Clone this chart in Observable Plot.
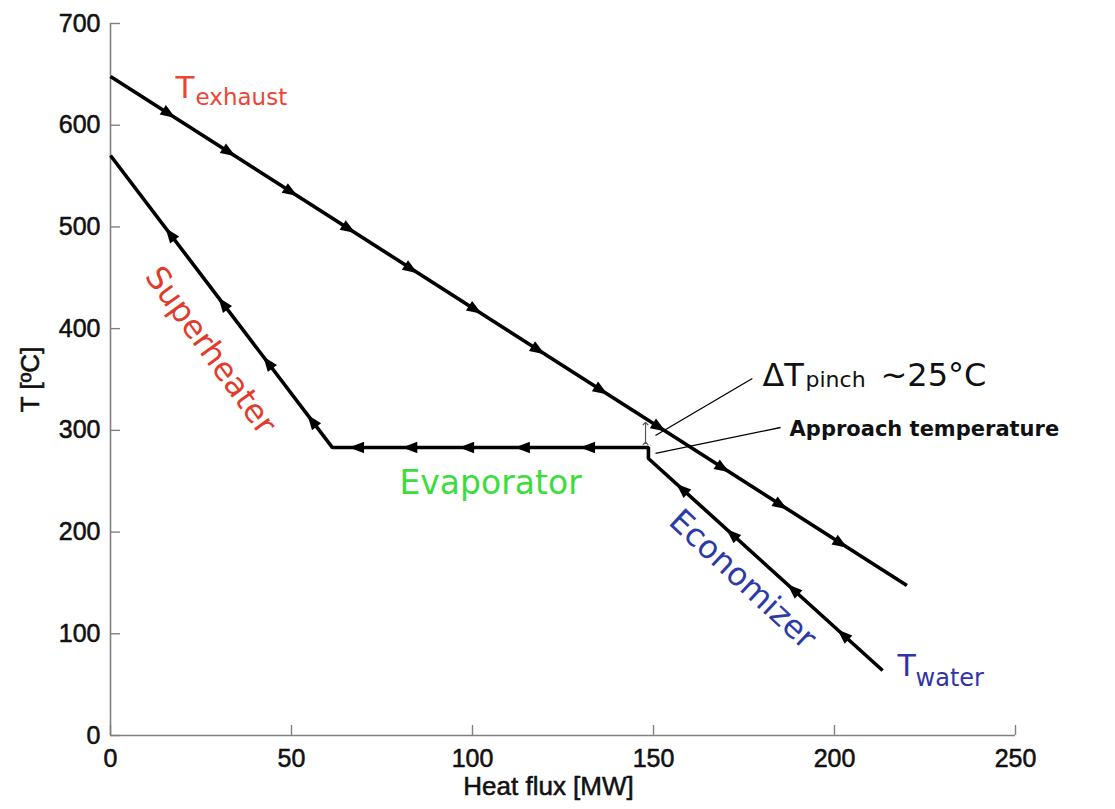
<!DOCTYPE html>
<html>
<head>
<meta charset="utf-8">
<script src="https://cdn.jsdelivr.net/npm/d3@7"></script>
<script src="https://cdn.jsdelivr.net/npm/@observablehq/plot@0.6"></script>
<style>
  html, body { margin: 0; padding: 0; background: #fff; }
</style>
</head>
<body>
<div id="chart"></div>
<script>
// ---- data ----
const xTicks = [0, 50, 100, 150, 200, 250];
const yTicks = [0, 100, 200, 300, 400, 500, 600, 700];

// exhaust gas line (heat flux MW, T °C)
const exhaustQ = [0, 220];
const exhaustT = [647.9, 147.5];

// water / steam line, in flow direction (economizer -> evaporator -> superheater)
const waterQ = [213.3, 148.6, 148.6, 61.3, 0];
const waterT = [63.9, 272.3, 283.1, 283.1, 570.2];

// arrowheads on lines
const exhaustArrowQ = [16, 32.6, 49.7, 65.7, 82.9, 100.6, 118, 135.4, 151.4, 169, 185, 201.6];
const exhaustArrowT = [611.6, 573.8, 534.8, 498.4, 459, 419, 379.3, 339.7, 303.3, 263.2, 226.8, 189];
const superArrowQ = [16.6, 31.2, 43.6, 55.8];
const superArrowT = [492.4, 424.1, 366, 308.8];
const evapArrowQ = [68.2, 82.9, 98.6, 114, 132];
const evapArrowT = [283.1, 283.1, 283.1, 283.1, 283.1];
const econArrowQ = [158, 171.8, 188.7, 202.5];
const econArrowT = [242, 197.5, 143.1, 98.7];

// pinch double arrow and leader lines
const pinchArrow = [{x1: 147.8, y1: 287.1, x2: 147.8, y2: 306.7}];
const leaders = [
  {x1: 150.55, y1: 294.9, x2: 177.3, y2: 351.0},
  {x1: 150.55, y1: 277.3, x2: 185.1, y2: 302.8}
];

// ---- layout ----
const W = 1115, H = 809;
const mL = 110, mR = 100, mT = 23, mB = 74;
const innerW = W - mL - mR, innerH = H - mT - mB;
const kx = innerW / 250, ky = innerH / 700;

function dirAngle(q0, t0, q1, t1) {
  const sx = (q1 - q0) * kx, sy = -(t1 - t0) * ky;
  return Math.atan2(sx, -sy) * 180 / Math.PI;
}
const zip = (qs, ts) => qs.map((q, i) => ({q, t: ts[i]}));

// slim filled triangle pointing up
const arrowHead = {
  draw(ctx, size) {
    const r = Math.sqrt(size / Math.PI);
    ctx.moveTo(0, -1.25 * r);
    ctx.lineTo(0.85 * r, 1.0 * r);
    ctx.lineTo(-0.85 * r, 1.0 * r);
    ctx.closePath();
  }
};

const angExhaust = dirAngle(exhaustQ[0], exhaustT[0], exhaustQ[1], exhaustT[1]);
const angEcon = dirAngle(waterQ[0], waterT[0], waterQ[1], waterT[1]);
const angEvap = dirAngle(waterQ[2], waterT[2], waterQ[3], waterT[3]);
const angSuper = dirAngle(waterQ[3], waterT[3], waterQ[4], waterT[4]);

const annFont = "DejaVu Sans";
const axFont = "Liberation Sans";
const axText = {fontFamily: axFont, fill: "#111", stroke: "#111", strokeWidth: 0.55};

function arrows(qs, ts, ang) {
  return Plot.dot(zip(qs, ts), {x: "q", y: "t", symbol: arrowHead, r: 6.7, rotate: ang, fill: "black", stroke: "none"});
}
function label(txt, x, y, opts) {
  return Plot.text([txt], Object.assign({x: () => x, y: () => y, text: d => d, lineAnchor: "middle"}, opts));
}

const chart = Plot.plot({
  width: W, height: H,
  marginLeft: mL, marginRight: mR, marginTop: mT, marginBottom: mB,
  style: {fontFamily: axFont, background: "white", overflow: "visible"},
  x: {domain: [0, 250], axis: null},
  y: {domain: [0, 700], axis: null},
  marks: [
    // axes
    Plot.ruleX([0], {stroke: "#808080", strokeWidth: 1.6}),
    Plot.ruleY([0], {stroke: "#808080", strokeWidth: 1.6}),
    Plot.tickX(xTicks, {x: d => d, insetTop: innerH - 10, stroke: "#808080", strokeWidth: 1.4}),
    Plot.tickY(yTicks, {y: d => d, insetRight: innerW - 10, stroke: "#808080", strokeWidth: 1.4}),
    Plot.text(xTicks, Object.assign({x: d => d, y: () => 0, text: d => String(d), dy: 14, lineAnchor: "top", textAnchor: "middle", fontSize: 25}, axText)),
    Plot.text(yTicks, Object.assign({x: () => 0, y: d => d, text: d => String(d), dx: -10, lineAnchor: "middle", textAnchor: "end", fontSize: 25}, axText)),
    label("Heat flux [MW]", 121, -50.1, Object.assign({fontSize: 26, textAnchor: "middle"}, axText)),
    label("T [ºC]", -22.1, 350, Object.assign({fontSize: 26, textAnchor: "middle", rotate: -90}, axText)),

    // lines
    Plot.line(zip(exhaustQ, exhaustT), {x: "q", y: "t", stroke: "black", strokeWidth: 3.6, strokeLinecap: "butt"}),
    Plot.line(zip(waterQ, waterT), {x: "q", y: "t", stroke: "black", strokeWidth: 3.6, strokeLinejoin: "miter", strokeLinecap: "butt"}),

    // arrowheads
    arrows(exhaustArrowQ, exhaustArrowT, angExhaust),
    arrows(superArrowQ, superArrowT, angSuper),
    arrows(evapArrowQ, evapArrowT, angEvap),
    arrows(econArrowQ, econArrowT, angEcon),

    // pinch marker and leaders
    Plot.link(pinchArrow, {x1: "x1", y1: "y1", x2: "x2", y2: "y2", stroke: "#555", strokeWidth: 1.2, markerStart: "arrow", markerEnd: "arrow"}),
    Plot.link(leaders, {x1: "x1", y1: "y1", x2: "x2", y2: "y2", stroke: "black", strokeWidth: 1.3}),

    // annotations
    label("T", 17.96, 636.7, {fontSize: 31, fontFamily: annFont, fill: "#ee4433", textAnchor: "start"}),
    label("exhaust", 23.5, 626.7, {fontSize: 23, fontFamily: annFont, fill: "#ee4433", textAnchor: "start"}),
    label("Superheater", 27.6, 378.5, {fontSize: 32, fontFamily: annFont, fill: "#e23b2b", textAnchor: "middle", rotate: 54}),
    label("Evaporator", 105, 248.3, {fontSize: 33, fontFamily: annFont, fill: "#3ddc3d", textAnchor: "middle"}),
    label("Economizer", 174.6, 153.4, {fontSize: 32, fontFamily: annFont, fill: "#2b3aa6", textAnchor: "middle", rotate: 43}),
    label("T", 217.4, 68.4, {fontSize: 30, fontFamily: annFont, fill: "#2f33aa", textAnchor: "start"}),
    label("water", 222.4, 56.7, {fontSize: 24, fontFamily: annFont, fill: "#2f33aa", textAnchor: "start"}),
    label("ΔT", 180.1, 354.1, {fontSize: 32, fontFamily: annFont, fill: "#111", textAnchor: "start"}),
    label("pinch", 192, 350, {fontSize: 22, fontFamily: annFont, fill: "#111", textAnchor: "start"}),
    label("~25°C", 212.7, 354.1, {fontSize: 32, fontFamily: annFont, fill: "#111", textAnchor: "start"}),
    label("Approach temperature", 187.6, 301.4, {fontSize: 21, fontFamily: annFont, fontWeight: "bold", fill: "#111", textAnchor: "start"})
  ]
});
document.getElementById("chart").appendChild(chart);
</script>
</body>
</html>
